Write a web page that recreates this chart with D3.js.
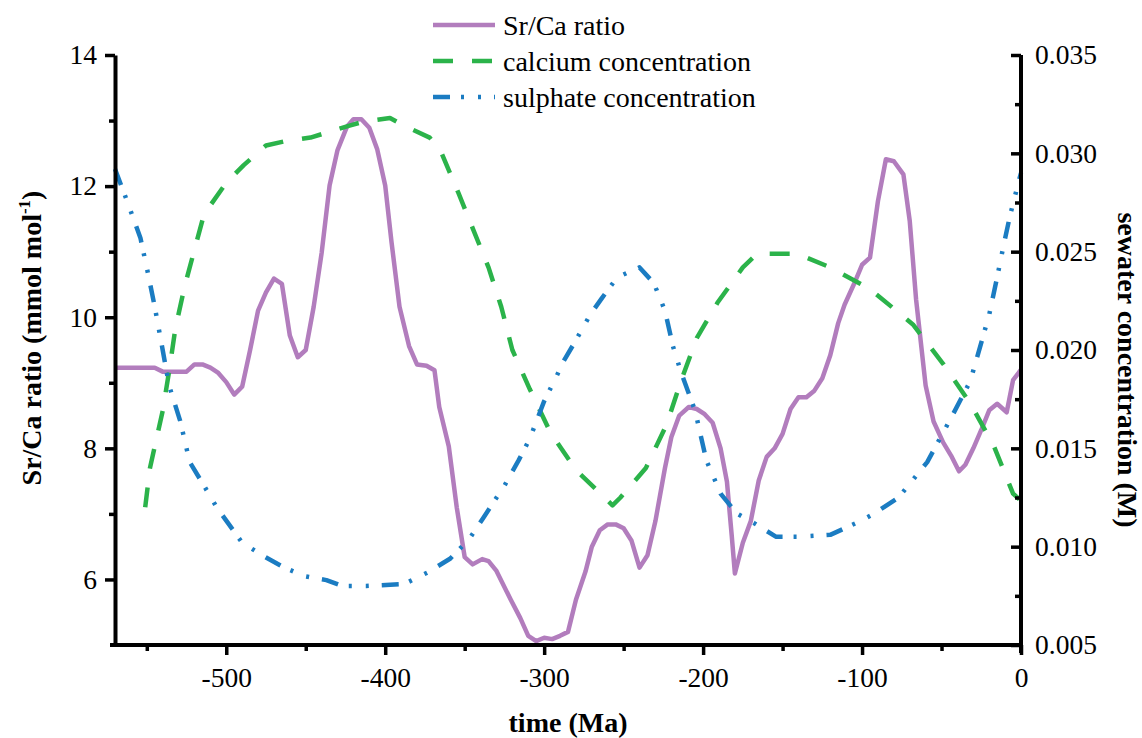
<!DOCTYPE html>
<html>
<head>
<meta charset="utf-8">
<script src="https://cdn.jsdelivr.net/npm/d3@7"></script>
<style>
  body { margin: 0; background: #fff; }
  svg text { font-family: "Liberation Serif", "Times New Roman", Times, serif; }
</style>
</head>
<body>
<div id="chart"></div>
<script>
// Sr/Ca ratio (mmol/mol), left axis
var srTime = [-570,-545,-540,-525,-520,-515,-510,-505,-500,-495,-490,-485,-480,-475,-470,-465,-460,-455,-450,-445,-440,-435,-430,-424,-420,-415,-410,-405,-400,-396,-391,-385,-380,-374,-369,-366,-360,-355,-350,-345,-339,-335,-330,-321,-315,-310,-305,-300,-295,-290,-285,-280,-274,-270,-265,-260,-255,-250,-245,-240,-235,-230,-224,-220,-215,-209,-204,-199,-194,-189,-185,-182,-180,-175,-170,-165,-160,-155,-150,-145,-140,-135,-130,-125,-120,-115,-111,-105,-100,-95,-90,-85,-80,-74,-70,-66,-60,-55,-49,-44,-39,-35,-30,-25,-20,-15,-9,-5,0];
var srRatio = [9.23,9.23,9.17,9.17,9.28,9.28,9.23,9.15,9.01,8.82,8.94,9.50,10.10,10.38,10.59,10.51,9.72,9.39,9.50,10.16,10.98,12.01,12.55,12.91,13.02,13.02,12.89,12.56,12.01,11.14,10.16,9.56,9.28,9.26,9.19,8.63,8.03,7.10,6.34,6.23,6.31,6.28,6.13,5.69,5.41,5.14,5.06,5.11,5.09,5.14,5.20,5.69,6.12,6.50,6.75,6.84,6.84,6.78,6.59,6.18,6.37,6.89,7.70,8.17,8.50,8.63,8.60,8.52,8.39,8.00,7.49,6.67,6.09,6.56,6.89,7.51,7.87,8.00,8.22,8.60,8.78,8.78,8.88,9.07,9.42,9.91,10.19,10.51,10.80,10.91,11.77,12.41,12.38,12.18,11.47,10.27,8.96,8.41,8.09,7.89,7.65,7.75,8.00,8.28,8.58,8.68,8.55,9.04,9.20];

// calcium concentration (M), right axis
var caTime = [-551,-548,-540,-536,-532,-526,-520,-514,-500,-489,-475,-464,-447,-439,-423,-414,-397,-388,-372,-365,-354,-345,-335,-327,-320,-309,-296,-280,-257,-252,-236,-223,-214,-204,-191,-175,-166,-150,-141,-120,-95,-68,-49,-32,-17,-5,-1];
var caConc = [0.0120,0.0140,0.0169,0.0189,0.0211,0.0233,0.0251,0.0269,0.0285,0.0294,0.0304,0.0306,0.0308,0.0310,0.0314,0.0316,0.0318,0.0314,0.0308,0.0301,0.0280,0.0262,0.0242,0.0222,0.0200,0.0180,0.0158,0.0139,0.0121,0.0125,0.0140,0.0162,0.0184,0.0206,0.0224,0.0242,0.0249,0.0249,0.0249,0.0242,0.0231,0.0213,0.0193,0.0173,0.0151,0.0127,0.0124];

// sulphate concentration (M), right axis
var soTime = [-570,-563,-554,-549,-545,-540,-536,-529,-523,-514,-506,-490,-476,-465,-451,-437,-427,-412,-388,-373,-359,-347,-338,-325,-316,-309,-300,-292,-288,-280,-271,-264,-254,-240,-231,-224,-219,-214,-205,-198,-189,-179,-168,-154,-141,-120,-101,-92,-77,-67,-59,-51,-43,-32,-27,-20,-15,-11,-7,-2,0];
var soConc = [0.0292,0.0277,0.0257,0.0238,0.0222,0.0200,0.0182,0.0164,0.0143,0.0131,0.0120,0.0102,0.0095,0.0090,0.0085,0.0083,0.0080,0.0080,0.0081,0.0087,0.0094,0.0104,0.0115,0.0131,0.0144,0.0155,0.0174,0.0187,0.0194,0.0205,0.0218,0.0226,0.0237,0.0242,0.0234,0.0220,0.0202,0.0189,0.0169,0.0144,0.0127,0.0117,0.0112,0.0105,0.0105,0.0106,0.0113,0.0117,0.0125,0.0135,0.0143,0.0155,0.0167,0.0184,0.0198,0.0218,0.0237,0.0253,0.0268,0.0284,0.0290];

var xTicks = [-500,-400,-300,-200,-100,0];
var xMinor = [-550,-450,-350,-250,-150,-50];
var leftTicks = [6,8,10,12,14];
var leftMinor = [7,9,11,13];
var rightTicks = [0.005,0.010,0.015,0.020,0.025,0.030,0.035];
var rightMinor = [0.0075,0.0125,0.0175,0.0225,0.0275,0.0325];

var series = [
  {name: "Sr/Ca ratio", t: srTime, v: srRatio, axis: "left", color: "#b27dbd", dash: null},
  {name: "calcium concentration", t: caTime, v: caConc, axis: "right", color: "#2bb34a", dash: "20,19"},
  {name: "sulphate concentration", t: soTime, v: soConc, axis: "right", color: "#1b7cc2", dash: "17,11,3,14,3,13"}
];

var serif = "'Liberation Serif', 'Times New Roman', Times, serif";

var margin = {top: 55, right: 121, bottom: 93, left: 115},
    totalWidth = 1142,
    totalHeight = 738,
    width = totalWidth - margin.left - margin.right,
    height = totalHeight - margin.top - margin.bottom;

var svg = d3.select("#chart").append("svg")
    .attr("width", totalWidth)
    .attr("height", totalHeight)
    .attr("font-family", serif)
  .append("g")
    .attr("transform", "translate(" + margin.left + "," + margin.top + ")");

var x = d3.scaleLinear().domain([-570, 0]).range([0, width]);
var yL = d3.scaleLinear().domain([5, 14]).range([height, 0]);
var yR = d3.scaleLinear().domain([0.005, 0.035]).range([height, 0]);

// lines
series.forEach(function(s) {
  var ys = s.axis == "left" ? yL : yR;
  var pts = s.t.map(function(t, i) { return [t, s.v[i]]; });
  var line = d3.line().x(function(d) { return x(d[0]); }).y(function(d) { return ys(d[1]); });
  var p = svg.append("path")
    .datum(pts)
    .attr("d", line)
    .attr("fill", "none")
    .attr("stroke", s.color)
    .attr("stroke-width", 4.5)
    .attr("stroke-linejoin", "round");
  if (s.dash) p.attr("stroke-dasharray", s.dash);
});

function styleAxis(g) {
  g.attr("font-family", serif).attr("font-size", 27.5);
  g.select(".domain").attr("stroke-width", 4).attr("stroke", "#000");
  g.selectAll(".tick line").attr("stroke-width", 3.5).attr("stroke", "#000");
  g.selectAll("text").style("font-family", serif).style("font-size", "27.5px").attr("fill", "#000");
}

// bottom axis
var gx = svg.append("g").attr("transform", "translate(0," + height + ")")
  .call(d3.axisBottom(x).tickValues(xTicks).tickFormat(function(d) { return String(d); }).tickSize(10).tickSizeOuter(0).tickPadding(12));
styleAxis(gx);
gx.select(".domain").attr("d", "M-5,0H" + width);
var gxm = svg.append("g").attr("transform", "translate(0," + height + ")")
  .call(d3.axisBottom(x).tickValues(xMinor).tickSize(6).tickFormat(""));
gxm.select(".domain").remove();
styleAxis(gxm);

// left axis
var gl = svg.append("g")
  .call(d3.axisLeft(yL).tickValues(leftTicks).tickSize(10).tickSizeOuter(0).tickPadding(8));
styleAxis(gl);
var glm = svg.append("g")
  .call(d3.axisLeft(yL).tickValues(leftMinor).tickSize(6).tickFormat(""));
glm.select(".domain").remove();
styleAxis(glm);

// right axis (ticks pointing inward)
var gr = svg.append("g").attr("transform", "translate(" + width + ",0)")
  .call(d3.axisRight(yR).tickValues(rightTicks).tickFormat(d3.format(".3f")).tickSize(-10).tickSizeOuter(0).tickPadding(14));
styleAxis(gr);
gr.select(".domain").attr("d", "M0,0V" + (height + 8));
var grm = svg.append("g").attr("transform", "translate(" + width + ",0)")
  .call(d3.axisRight(yR).tickValues(rightMinor).tickSize(-6).tickFormat(""));
grm.select(".domain").remove();
styleAxis(grm);

// axis titles
svg.append("text")
  .attr("x", 568 - margin.left).attr("y", 732 - margin.top)
  .attr("text-anchor", "middle")
  .style("font-size", "28px").style("font-weight", "bold")
  .text("time (Ma)");

var lt = svg.append("text")
  .attr("transform", "translate(" + (41 - margin.left) + "," + (338 - margin.top) + ") rotate(-90)")
  .attr("text-anchor", "middle")
  .style("font-size", "28px").style("font-weight", "bold");
lt.append("tspan").text("Sr/Ca ratio (mmol mol");
lt.append("tspan").attr("dy", -11).style("font-size", "17px").text("-1");
lt.append("tspan").attr("dy", 11).text(")");

svg.append("text")
  .attr("transform", "translate(" + (1118 - margin.left) + "," + (370 - margin.top) + ") rotate(90)")
  .attr("text-anchor", "middle")
  .style("font-size", "28px").style("font-weight", "bold")
  .text("sewater concentration (M)");

// legend
var legend = svg.append("g").attr("transform", "translate(" + (433 - margin.left) + "," + (25 - margin.top) + ")");
series.forEach(function(s, i) {
  var row = legend.append("g").attr("transform", "translate(0," + (i * 36) + ")");
  var l = row.append("line")
    .attr("x1", 0).attr("x2", 62).attr("y1", 0).attr("y2", 0)
    .attr("stroke", s.color).attr("stroke-width", 4.5);
  if (s.dash) l.attr("stroke-dasharray", s.dash);
  row.append("text")
    .attr("x", 70).attr("y", 0).attr("dy", "0.35em")
    .style("font-size", "28px")
    .text(s.name);
});
</script>
</body>
</html>
